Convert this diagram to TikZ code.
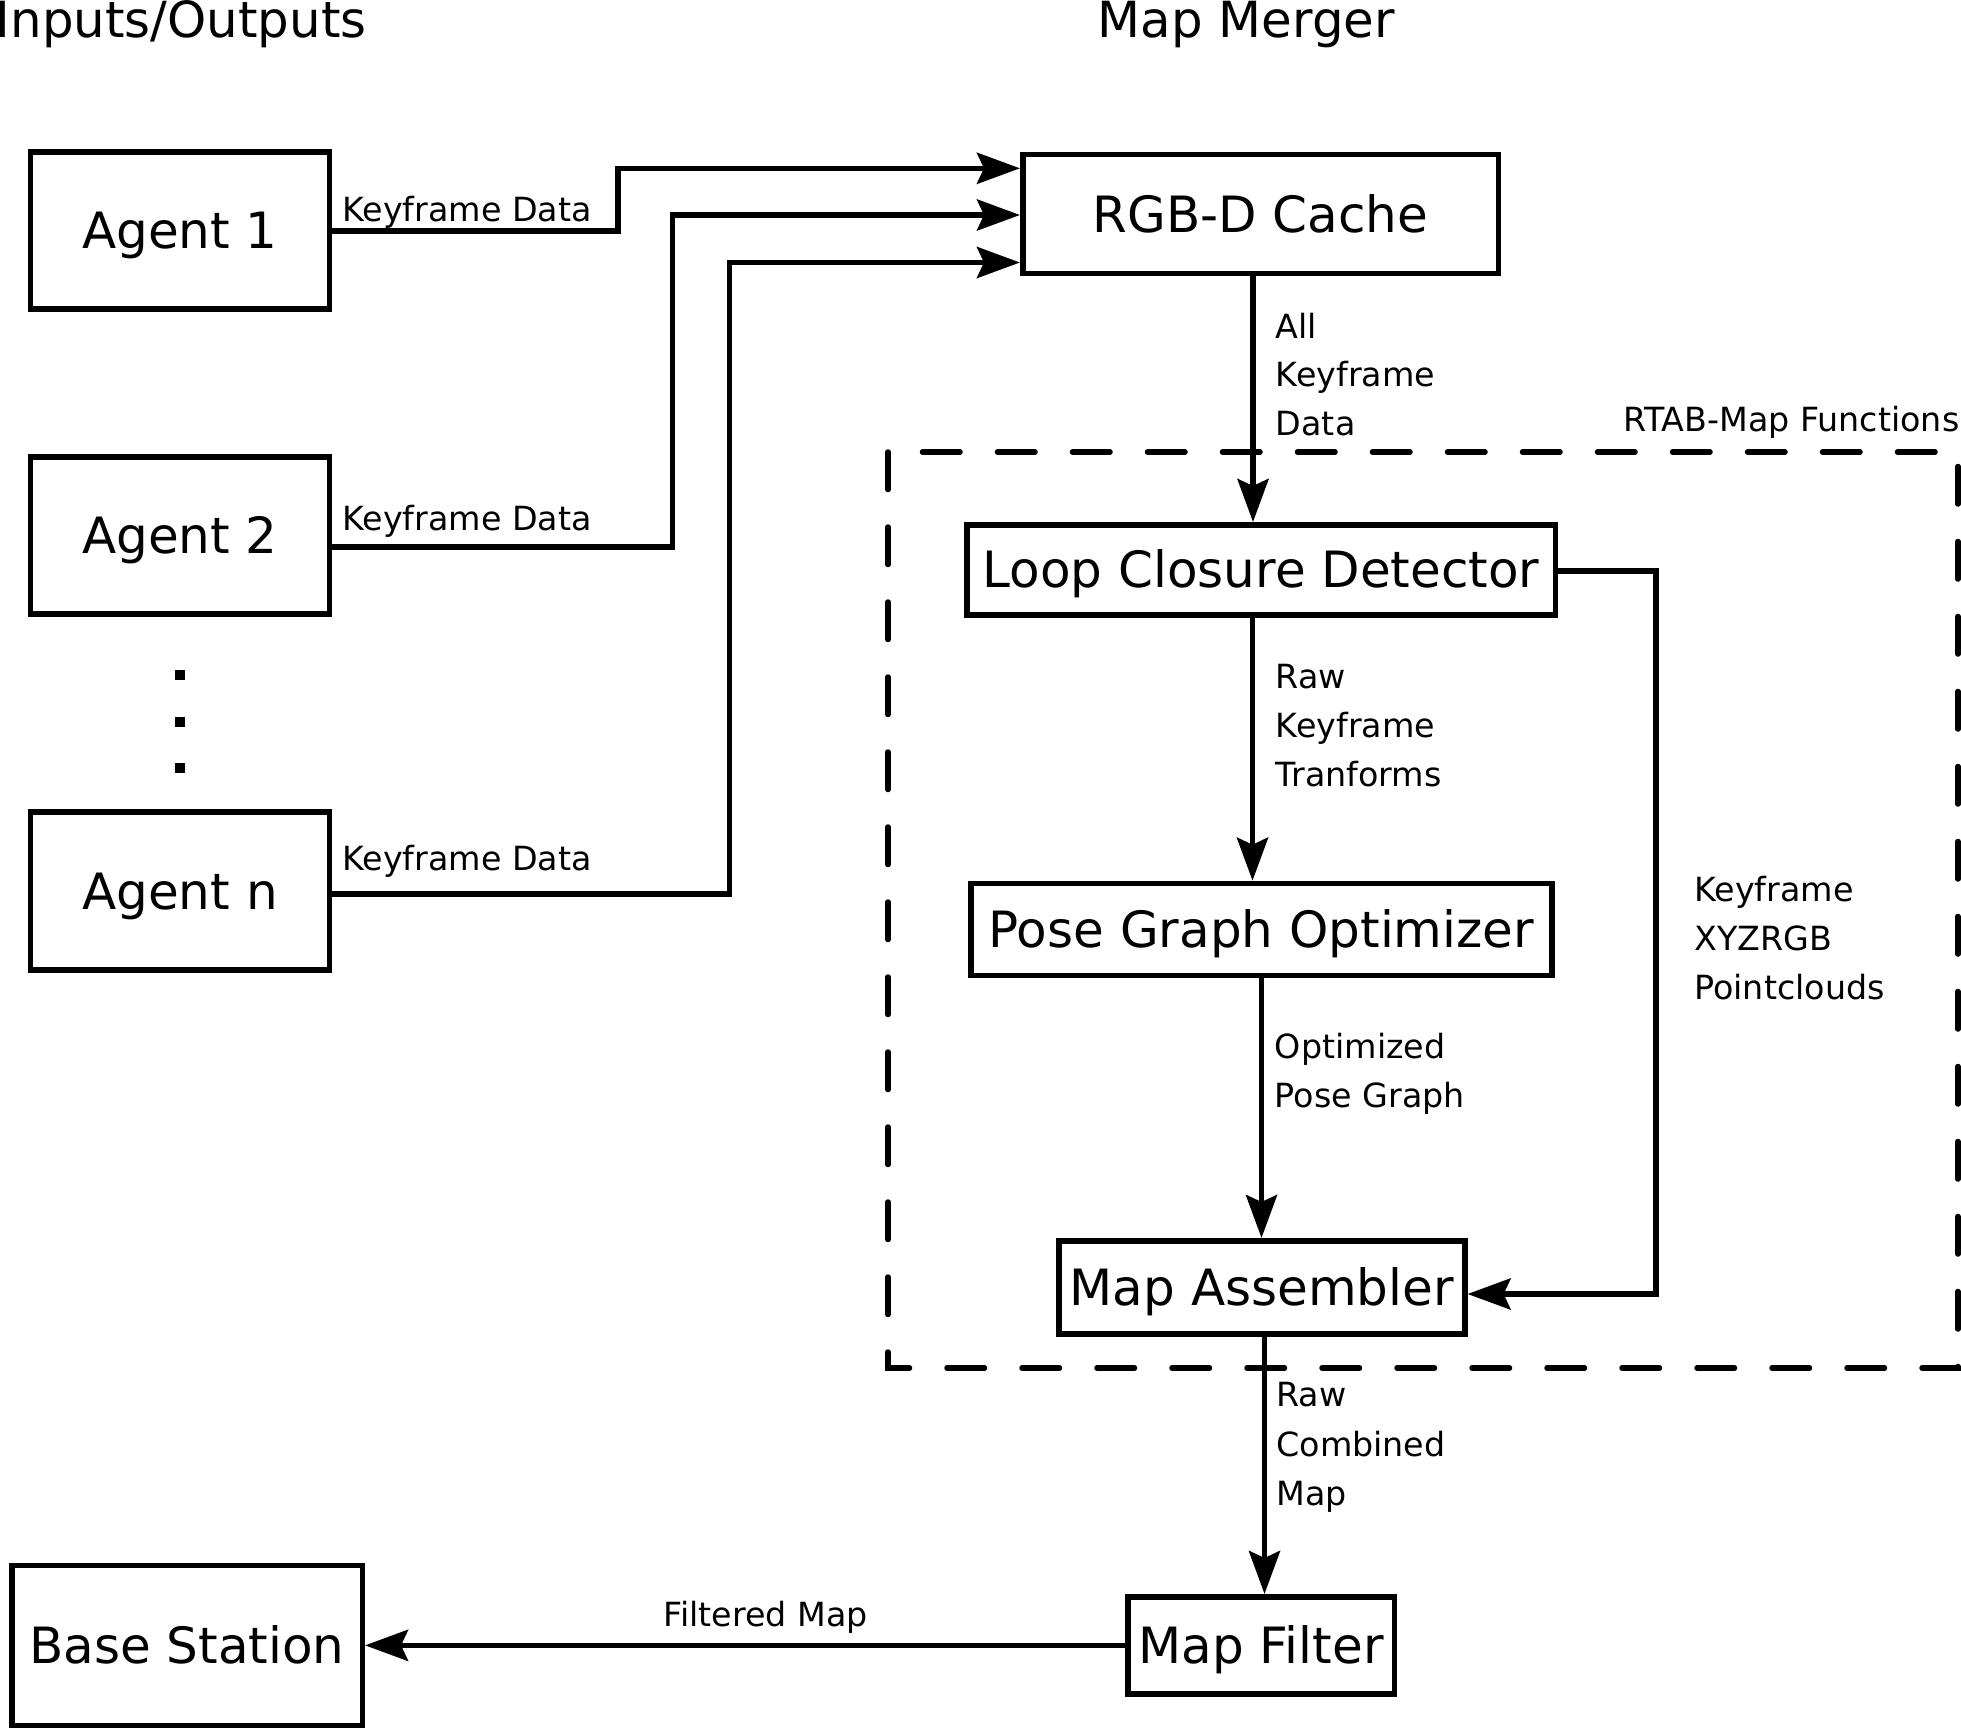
\documentclass[tikz,border=0pt]{standalone}
\usepackage{fontspec}
\setmainfont{DejaVu Sans}
\usetikzlibrary{arrows.meta}
\tikzset{
  blk/.style={draw, line width=2.75pt, inner sep=0pt, text height=18.2pt, text depth=0pt,
    font=\fontsize{25pt}{30pt}\selectfont},
  conn/.style={line width=2.8pt},
  arr/.style={conn, -{Stealth[length=21.5pt, width=15.5pt, inset=3.5pt]}},
  lbl/.style={anchor=base west, inner sep=0pt, font=\fontsize{16.65pt}{19pt}\selectfont},
  ttl/.style={inner sep=0pt, font=\fontsize{24.9pt}{29pt}\selectfont},
  grp/.style={line width=2.75pt, line cap=round, dash pattern=on 18.75pt off 18.75pt},
  dotsq/.style={fill=black, inner sep=0pt, minimum size=5pt}
}
\begin{document}
\begin{tikzpicture}[x=0.5pt, y=-0.5pt]
\useasboundingbox (0,0) rectangle (1961,1729);

% titles
\node[ttl, anchor=base east] (t1) at (367,37) {Inputs/Outputs};
\node[ttl, anchor=base west] (t2) at (1097.5,37) {Map Merger};

% agents
\node[blk, minimum width=149.5pt, minimum height=78.5pt] (a1) at (180,230.5) {Agent 1};
\node[blk, minimum width=149.5pt, minimum height=78.5pt] (a2) at (180,535.5) {Agent 2};
\node[blk, minimum width=149.5pt, minimum height=79pt] (an) at (180,891) {Agent n};
\node[dotsq] (d1) at (180,674.6) {};
\node[dotsq] (d2) at (180,721.8) {};
\node[dotsq] (d3) at (180,768) {};

% main chain
\node[blk, minimum width=237.75pt, minimum height=59.5pt] (cache) at (1260.5,214) {RGB-D Cache};
\node[blk, minimum width=294.25pt, minimum height=45pt] (lcd) at (1261,569.75) {Loop Closure Detector};
\node[blk, minimum width=290.5pt, minimum height=45.9pt] (pgo) at (1261.25,929.35) {Pose Graph Optimizer};
\node[blk, minimum width=203pt, minimum height=46.6pt] (ma) at (1261.8,1287.35) {Map Assembler};
\node[blk, minimum width=133.25pt, minimum height=48.6pt] (mf) at (1261,1645.35) {Map Filter};
\node[blk, minimum width=175.25pt, minimum height=80pt] (bs) at (187,1645.35) {Base Station};

% group box
\draw[grp] (888,452) rectangle (1958,1368);
\node[lbl] (rtab) at (1623,431.7) {RTAB-Map Functions};

% agent connectors
\coordinate (s1) at (332,230.7);
\coordinate (s2) at (332,547);
\coordinate (s3) at (332,894);
\coordinate (c1) at (618,168.3);
\coordinate (c2) at (672.5,215);
\coordinate (c3) at (729.5,262.5);
\draw[arr] (a1.east |- s1) -| (c1) -- (c1 -| cache.west);
\draw[arr] (a2.east |- s2) -| (c2) -- (c2 -| cache.west);
\draw[arr] (an.east |- s3) -| (c3) -- (c3 -| cache.west);
\node[lbl] (k1) at (342,221.7) {Keyframe Data};
\node[lbl] (k2) at (342,530.7) {Keyframe Data};
\node[lbl] (k3) at (342,870.7) {Keyframe Data};

% vertical flow
\coordinate (v1) at (1253,0);
\draw[arr] (cache.south -| v1) -- (lcd.north -| v1);
\node[lbl] (l1a) at (1275.5,338) {All};
\node[lbl] (l1b) at (1275.5,386.5) {Keyframe};
\node[lbl] (l1c) at (1275.5,435) {Data};

\coordinate (v2) at (1252.5,0);
\draw[arr] (lcd.south -| v2) -- (pgo.north -| v2);
\node[lbl] (l2a) at (1275.5,688) {Raw};
\node[lbl] (l2b) at (1275.5,737) {Keyframe};
\node[lbl] (l2c) at (1275.5,786) {Tranforms};

\coordinate (v3) at (1261.5,0);
\draw[arr] (pgo.south -| v3) -- (ma.north -| v3);
\node[lbl] (l3a) at (1274.5,1058) {Optimized};
\node[lbl] (l3b) at (1274.5,1107.5) {Pose Graph};

\coordinate (h4) at (1656,571);
\coordinate (h5) at (1656,1294);
\draw[arr] (lcd.east |- h4) -- (h4) -- (h5) -- (h5 -| ma.east);
\node[lbl] (l4a) at (1694,901.7) {Keyframe};
\node[lbl] (l4b) at (1694,950.5) {XYZRGB};
\node[lbl] (l4c) at (1694,999.5) {Pointclouds};

\coordinate (v5) at (1264.5,0);
\draw[arr] (ma.south -| v5) -- (mf.north -| v5);
\node[lbl] (l5a) at (1276,1406.7) {Raw};
\node[lbl] (l5b) at (1276,1456) {Combined};
\node[lbl] (l5c) at (1276,1505) {Map};

\draw[arr] (mf.west) -- (bs.east);
\node[lbl] (l6) at (663,1626.7) {Filtered Map};
\end{tikzpicture}
\end{document}
